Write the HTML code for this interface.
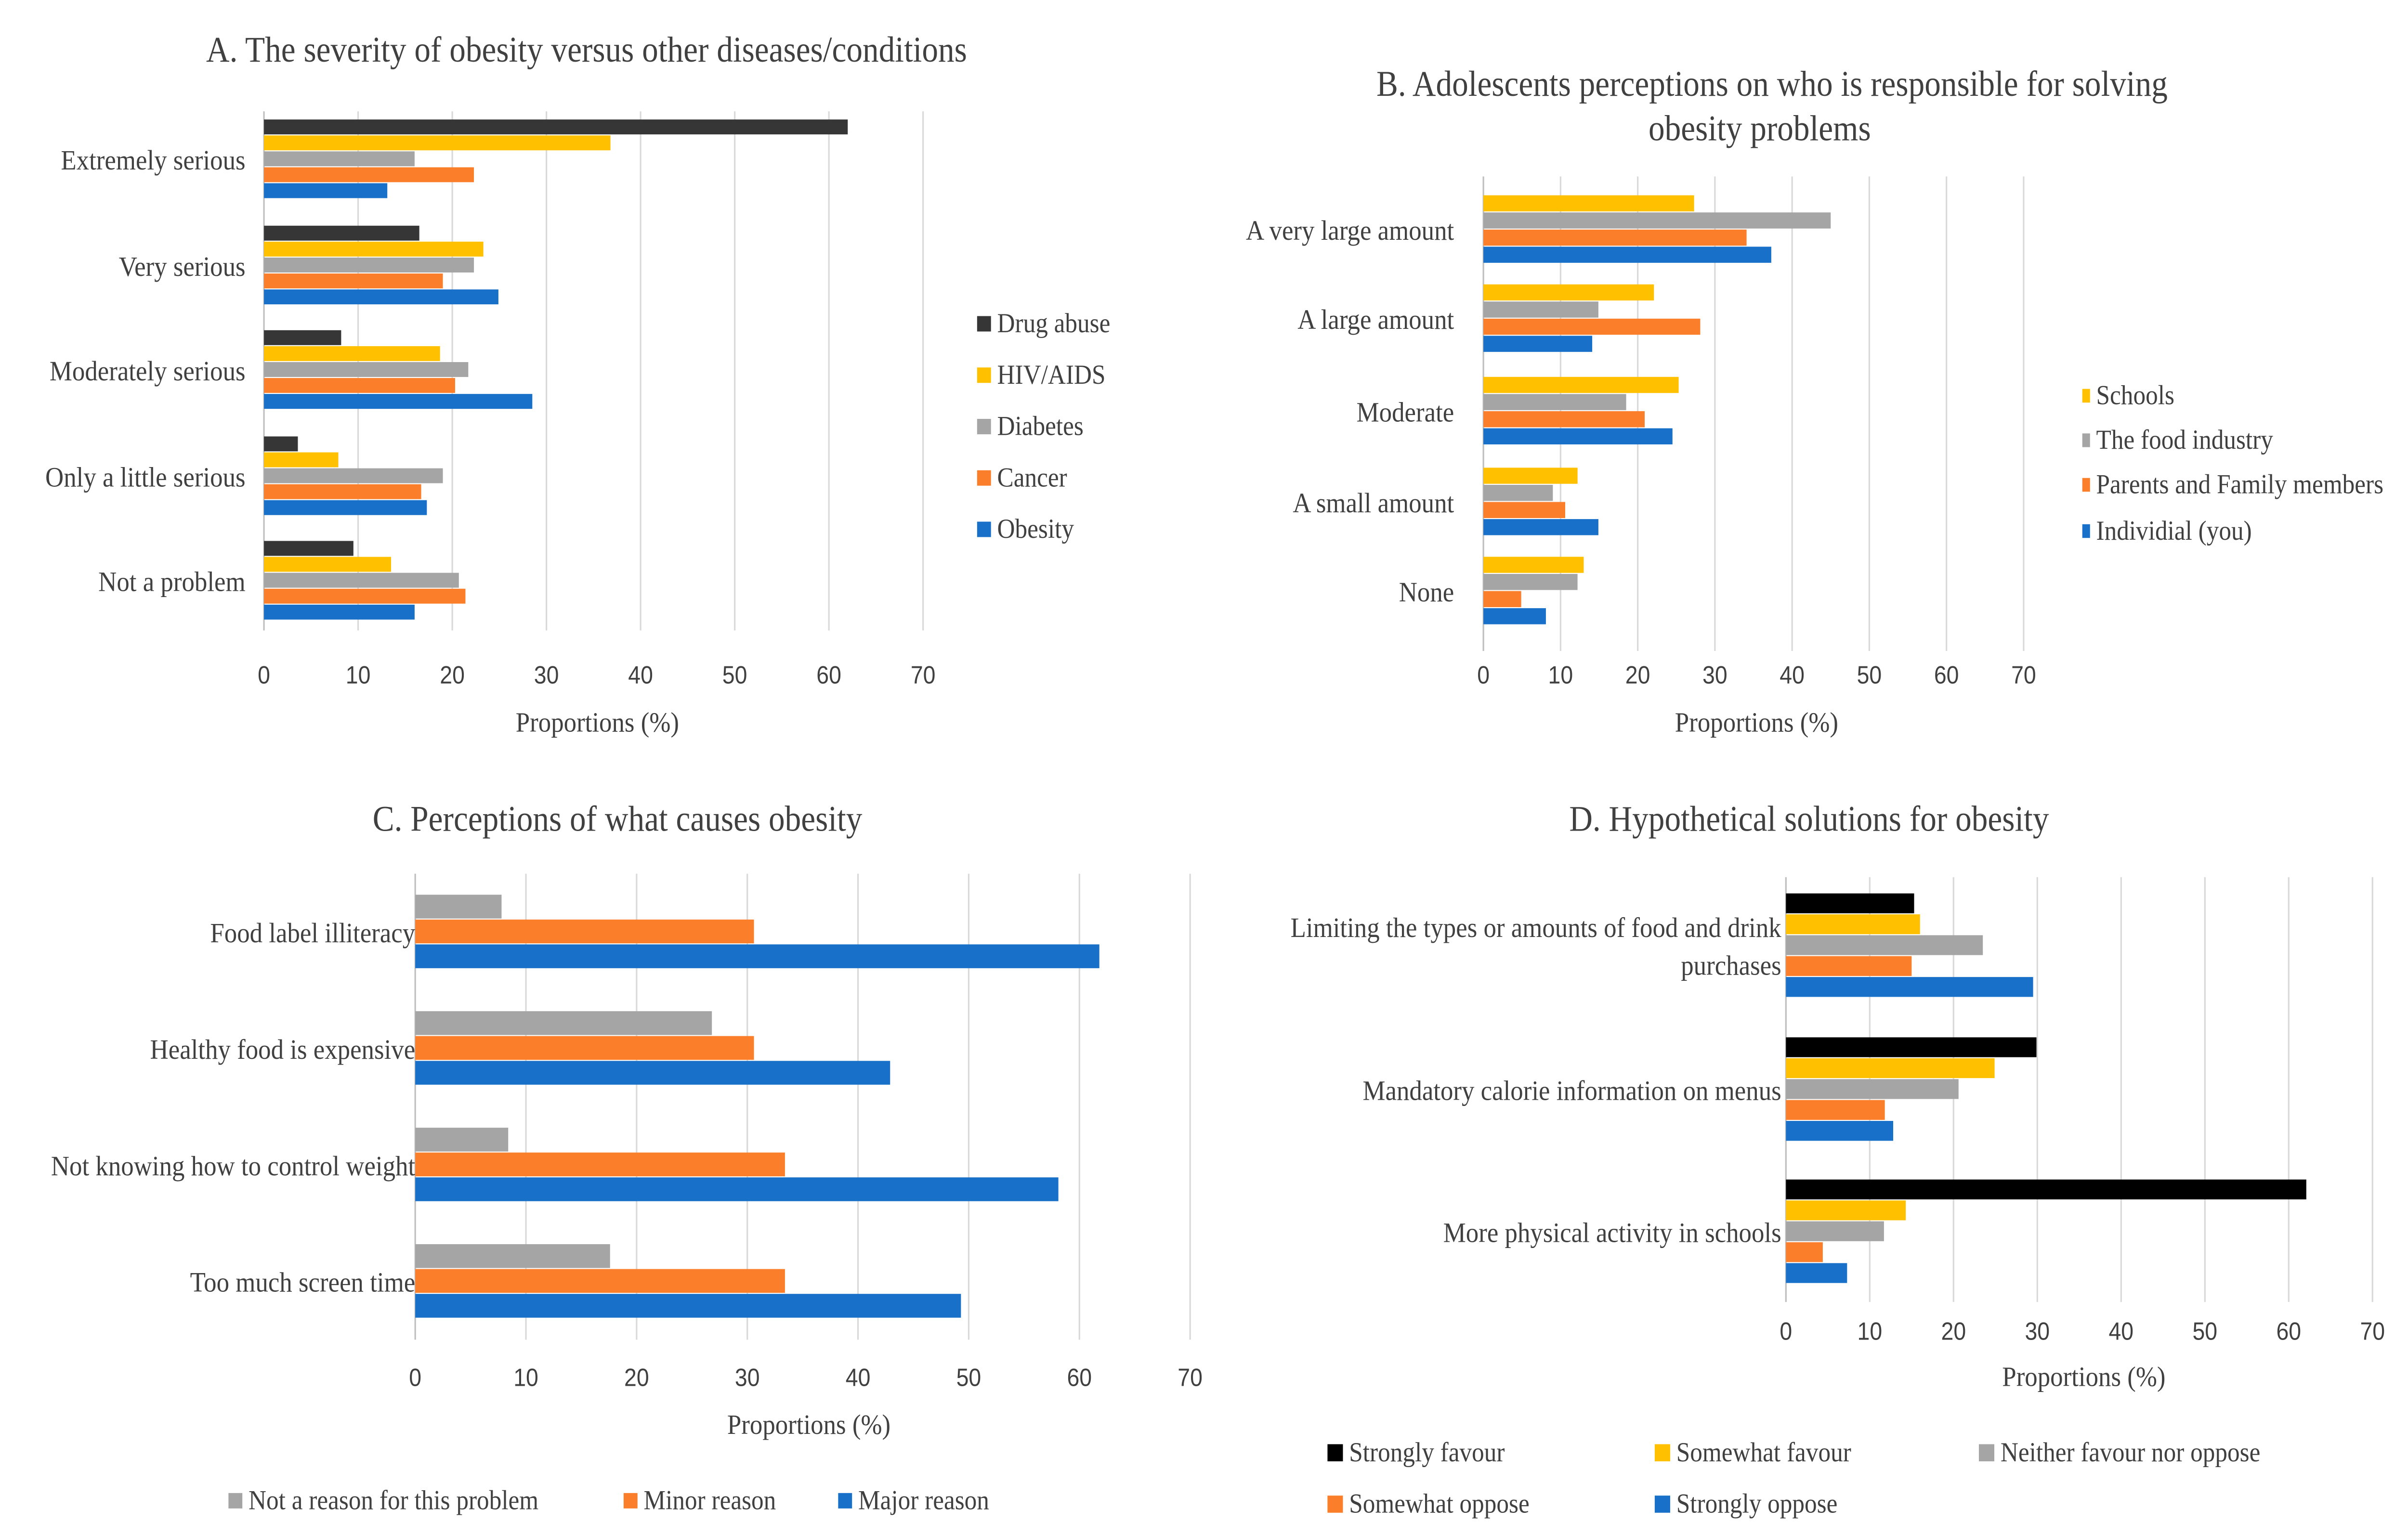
<!DOCTYPE html>
<html><head><meta charset="utf-8"><style>
html,body{margin:0;padding:0;background:#fff;overflow:hidden;width:100%;height:100%;}
svg{display:block;position:fixed;left:0;top:0;width:100vw;height:100vh;}
text{font-family:"Liberation Serif",serif;fill:#404040;}
.tick{font-family:"Liberation Sans",sans-serif;font-size:14.5px;}
.cat{font-size:16.5px;}
.ttl{font-size:21px;}
.leg{font-size:16px;}
</style></head><body>
<svg id="chart" viewBox="0 0 1560 896" preserveAspectRatio="none" xmlns="http://www.w3.org/2000/svg">
<rect width="1560" height="896" fill="#fff"/>
</svg>
<script>
const ticks = [0,10,20,30,40,50,60,70];
// Panel A
const catsA = ["Extremely serious","Very serious","Moderately serious","Only a little serious","Not a problem"];
const seriesNamesA = ["Drug abuse","HIV/AIDS","Diabetes","Cancer","Obesity"];
const drugA = [62,16.5,8.2,3.6,9.5];
const hivA = [36.8,23.3,18.7,7.9,13.5];
const diabA = [16,22.3,21.7,19,20.7];
const cancerA = [22.3,19,20.3,16.7,21.4];
const obesityA = [13.1,24.9,28.5,17.3,16];
// Panel B
const catsB = ["A very large amount","A large amount","Moderate","A small amount","None"];
const seriesNamesB = ["Schools","The food industry","Parents and Family members","Individial (you)"];
const schoolsB = [27.3,22.1,25.3,12.2,13];
const foodB = [45,14.9,18.5,9,12.2];
const parentsB = [34.1,28.1,20.9,10.6,4.9];
const indivB = [37.3,14.1,24.5,14.9,8.1];
// Panel C
const catsC = ["Food label illiteracy","Healthy food is expensive","Not knowing how to control weight","Too much screen time"];
const seriesNamesC = ["Not a reason for this problem","Minor reason","Major reason"];
const notC = [7.8,26.8,8.4,17.6];
const minorC = [30.6,30.6,33.4,33.4];
const majorC = [61.8,42.9,58.1,49.3];
// Panel D
const catsD = [["Limiting the types or amounts of food and drink","purchases"],["Mandatory calorie information on menus"],["More physical activity in schools"]];
const seriesNamesD = ["Strongly favour","Somewhat favour","Neither favour nor oppose","Somewhat oppose","Strongly oppose"];
const sfD = [15.3,29.9,62.1];
const swfD = [16,24.9,14.3];
const neD = [23.5,20.6,11.7];
const soD = [15,11.8,4.4];
const stoD = [29.5,12.8,7.3];

const NS="http://www.w3.org/2000/svg";
const svg=document.getElementById('chart');
function mk(tag,attrs,parent,txt){const e=document.createElementNS(NS,tag);for(const k in attrs)e.setAttribute(k,attrs[k]);if(txt!==undefined)e.textContent=txt;(parent||svg).appendChild(e);return e;}

function panel(cfg){
  const g=mk('g',{});
  
  
  const xs=v=>cfg.x0+(cfg.x70-cfg.x0)*v/70;
  ticks.forEach(t=>{
    const l=mk('line',{x1:xs(t),x2:xs(t),y1:cfg.gTop,y2:cfg.gBot,stroke:t===0?'#bfbfbf':'#d9d9d9','stroke-width':1},g);
    
    
    const tx=mk('text',{x:xs(t),y:cfg.tickY,'text-anchor':'middle',class:'tick'},g,String(t));
    
    
  });
  const n=cfg.series.length;
  cfg.cats.forEach((c,i)=>{
    const cy=cfg.centers[i];
    const top=cy-n*cfg.bh/2;
    cfg.series.forEach((s,j)=>{
      const v=s[i];
      const r=mk('rect',{x:xs(0),y:top+j*cfg.bh,width:xs(v)-xs(0),height:cfg.bh-0.6,fill:cfg.colors[j]},g);
      
      
    });
    const lines=Array.isArray(c)?c:[c];
    lines.forEach((ln,k)=>{
      const ty=cy+6-(lines.length-1)*11+k*22;
      const t=mk('text',{x:cfg.labelX,y:ty,'text-anchor':'end',class:'cat'},g,ln);
      
      
    });
  });
  cfg.titles.forEach(tt=>{
    const t=mk('text',{x:tt[0],y:tt[1],'text-anchor':'middle',class:'ttl'},g,tt[2]);
    
    
  });
  const at=mk('text',{x:cfg.axisTitle[0],y:cfg.axisTitle[1],'text-anchor':'middle',class:'cat'},g,'Proportions (%)');
  
  
  cfg.legend.forEach((L,j)=>{
    const sq=mk('rect',{x:L[0],y:L[1]-L[3]/2-5,width:L[2],height:L[3],fill:cfg.colors[j]},g);
    
    
    const t=mk('text',{x:L[0]+L[2]+4,y:L[1],class:'leg'},g,cfg.names[j]);
    
    
  });
}
const BLK='#363636',YEL='#ffc000',GRY='#a5a5a5',ORG='#fb7f2a',BLU='#1870c8';
panel({name:'panel-a',x0:171,x70:598,gTop:65,gBot:368,tickY:399,cats:catsA,centers:[93,155,216,278,339],bh:9.3,
  series:[drugA,hivA,diabA,cancerA,obesityA],colors:[BLK,YEL,GRY,ORG,BLU],names:seriesNamesA,labelX:159,
  titles:[[380,36,'A. The severity of obesity versus other diseases/conditions']],axisTitle:[387,427],
  legend:[[633,194,9,9],[633,224,9,9],[633,254,9,9],[633,284,9,9],[633,314,9,9]]});
panel({name:'panel-b',x0:961,x70:1311,gTop:103,gBot:380,tickY:399,cats:catsB,centers:[134,186,240,293,345],bh:10,
  series:[schoolsB,foodB,parentsB,indivB],colors:[YEL,GRY,ORG,BLU],names:seriesNamesB,labelX:942,
  titles:[[1148,56,'B. Adolescents perceptions on who is responsible for solving'],[1140,82,'obesity problems']],axisTitle:[1138,427],
  legend:[[1349,236,5,8],[1349,262,5,8],[1349,288,5,8],[1349,315,5,8]]});
panel({name:'panel-c',x0:269,x70:771,gTop:510,gBot:782,tickY:809,cats:catsC,centers:[544,612,680,748],bh:14.5,
  series:[notC,minorC,majorC],colors:[GRY,ORG,BLU],names:seriesNamesC,labelX:269,
  titles:[[400,485,'C. Perceptions of what causes obesity']],axisTitle:[524,837],
  legend:[[148,881,9,9],[404,881,9,9],[543,881,9,9]]});
panel({name:'panel-d',x0:1157,x70:1537,gTop:512,gBot:760,tickY:782,cats:catsD,centers:[552,636,719],bh:12.2,
  series:[sfD,swfD,neD,soD,stoD],colors:['#000000',YEL,GRY,ORG,BLU],names:seriesNamesD,labelX:1154,
  titles:[[1172,485,'D. Hypothetical solutions for obesity']],axisTitle:[1350,809],
  legend:[[860,853,10,10],[1072,853,10,10],[1282,853,10,10],[860,883,10,10],[1072,883,10,10]]});
</script>
</body></html>
